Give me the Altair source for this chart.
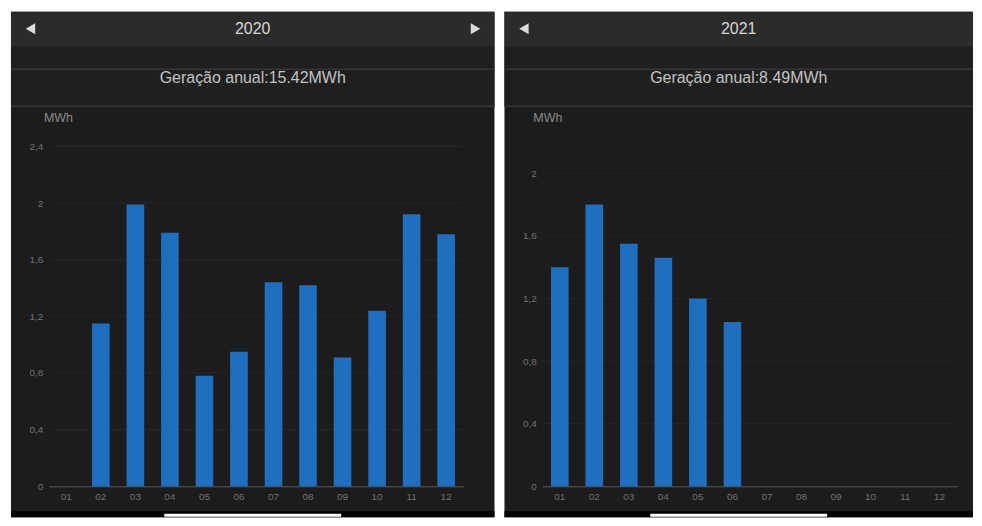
import altair as alt
import pandas as pd

# ---------------- data ----------------
months = ["01", "02", "03", "04", "05", "06", "07", "08", "09", "10", "11", "12"]
gen_2020 = [0, 1.15, 1.99, 1.79, 0.78, 0.95, 1.44, 1.42, 0.91, 1.24, 1.92, 1.78]
gen_2021 = [1.40, 1.80, 1.55, 1.46, 1.20, 1.05]
ticks_2020 = [0, 0.4, 0.8, 1.2, 1.6, 2.0, 2.4]
ticks_2021 = [0, 0.4, 0.8, 1.2, 1.6, 2.0]
years = ["2020", "2021"]
annual_totals = ["15.42", "8.49"]
unit = "MWh"

# ---------------- layout constants (pixels) ----------------
PLOT_W = 416
PLOT_H = 341
PL = 38      # plot left offset inside phone
PT = 135     # plot top offset inside phone
PH = 507     # phone height (fits the 526px window with the page margin)
FONT = "Liberation Sans"
BAR = "#1f6ec0"


def phone(year, total, values, ticks, ymax, phone_w, has_next, mwh_x):
    right = phone_w - PL
    cx = phone_w / 2 - PL
    one = alt.Chart(pd.DataFrame({"k": [0]}))

    bg = one.mark_rect(color="#1c1c1c").encode(
        x=alt.value(-PL), x2=alt.value(right), y=alt.value(-PT), y2=alt.value(PH - PT))
    head = one.mark_rect(color="#2b2b2b").encode(
        x=alt.value(-PL), x2=alt.value(right), y=alt.value(-PT), y2=alt.value(-100))
    band = one.mark_rect(color="#1f1f1f").encode(
        x=alt.value(-PL), x2=alt.value(right), y=alt.value(-100), y2=alt.value(-40))
    sep1 = one.mark_rect(color="#363636").encode(
        x=alt.value(-PL), x2=alt.value(right), y=alt.value(-78), y2=alt.value(-76.5))
    sep2 = one.mark_rect(color="#363636").encode(
        x=alt.value(-PL), x2=alt.value(right), y=alt.value(-41), y2=alt.value(-39.5))
    bottom = one.mark_rect(color="#000000").encode(
        x=alt.value(-PL), x2=alt.value(right), y=alt.value(366), y2=alt.value(PH - PT))
    home = one.mark_rect(color="#ffffff", cornerRadius=2).encode(
        x=alt.value(cx - 89), x2=alt.value(cx + 89), y=alt.value(368.5), y2=alt.value(371.5))
    title = one.mark_text(font=FONT, fontSize=16, color="#d6d6d6").encode(
        x=alt.value(cx), y=alt.value(-118), text=alt.value(year))
    sub = one.mark_text(font=FONT, fontSize=16, color="#c4c4c4").encode(
        x=alt.value(cx), y=alt.value(-69), text=alt.value(f"Geração anual:{total}{unit}"))
    mwh = one.mark_text(font=FONT, fontSize=12.5, color="#8a8a8a", align="left").encode(
        x=alt.value(mwh_x), y=alt.value(-28), text=alt.value(unit))
    larrow = one.mark_point(shape="triangle-left", filled=True, size=120, color="#dcdcdc", opacity=1).encode(
        x=alt.value(-18.5), y=alt.value(-118))
    layers = [bg, head, band, sep1, sep2, bottom, home, title, sub, mwh, larrow]
    if has_next:
        rarrow = one.mark_point(shape="triangle-right", filled=True, size=120, color="#dcdcdc", opacity=1).encode(
            x=alt.value(right - 19), y=alt.value(-118))
        layers.append(rarrow)

    yscale = alt.Scale(domain=[0, ymax], nice=False, zero=True)
    yaxis = alt.Axis(values=ticks, title=None, grid=False, domain=False, ticks=False,
                     labelExpr="replace(format(datum.value, '.1~f'), '.', ',')",
                     labelFont=FONT, labelFontSize=10, labelColor="#727272",
                     labelPadding=6, zindex=1)
    xaxis = alt.Axis(title=None, grid=False, ticks=False, domain=True, domainColor="#5c5c5c",
                     domainWidth=1, labelAngle=0, labelFont=FONT, labelFontSize=10,
                     labelColor="#727272", labelPadding=5, zindex=1)
    xscale = alt.Scale(domain=months, paddingInner=0.49, paddingOuter=0.25)

    grid_df = pd.DataFrame({"value": ticks[1:]})
    grid = alt.Chart(grid_df).mark_rule(color="#262626", strokeWidth=1).encode(
        y=alt.Y("value:Q", scale=yscale, axis=yaxis),
        x=alt.value(1), x2=alt.value(PLOT_W - 1))

    bar_df = pd.DataFrame({"month": months[:len(values)], "value": values})
    bars = alt.Chart(bar_df).mark_bar(color=BAR).encode(
        x=alt.X("month:N", scale=xscale, axis=xaxis),
        y=alt.Y("value:Q", scale=yscale, axis=yaxis))

    layers += [grid, bars]
    return alt.layer(*layers).properties(width=PLOT_W, height=PLOT_H)


left = phone(years[0], annual_totals[0], gen_2020, ticks_2020, 2.4, 485, True, -5)
right = phone(years[1], annual_totals[1], gen_2021, ticks_2021, 2.172, 470, False, -9)

chart = alt.hconcat(left, right, spacing=8).properties(
    padding={"left": 2, "top": 2, "right": 0, "bottom": 0},
    background="#ffffff",
).configure_view(stroke="transparent")

chart.save("out.html", embed_options={"renderer": "svg", "actions": False})
